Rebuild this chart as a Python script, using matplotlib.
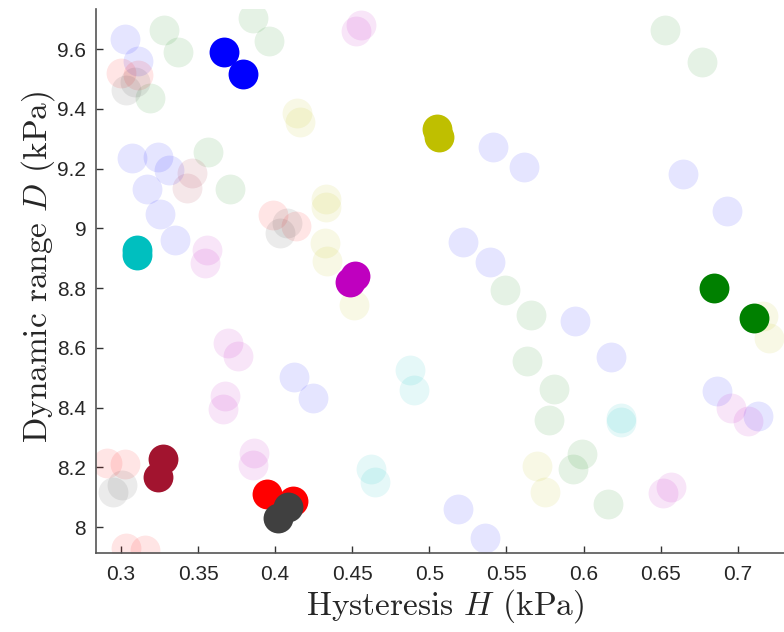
import matplotlib
matplotlib.use('Agg')
import matplotlib.pyplot as plt
from matplotlib import font_manager

# solid (current) points per series
solid_colors = ['#0000FF', '#BFBF00', '#00BFBF', '#BF00BF', '#008000', '#A2142F', '#FF0000', '#404040']
solid_H = [[0.3668, 0.3791], [0.5050, 0.5062], [0.3104, 0.3106], [0.4485, 0.4518],
           [0.6846, 0.7105], [0.3272, 0.3240], [0.3947, 0.4115], [0.4083, 0.4018]]
solid_D = [[9.590, 9.516], [9.331, 9.305], [8.927, 8.910], [8.820, 8.840],
           [8.800, 8.700], [8.228, 8.167], [8.110, 8.087], [8.067, 8.030]]

# faded (history) points per series
faded_colors = ['#0000FF', '#008000', '#FF0000', '#A2142F', '#404040', '#BFBF00', '#BF00BF', '#00BFBF']
faded_H = [
    [0.3026, 0.311, 0.307, 0.324, 0.331, 0.3169, 0.3253, 0.335, 0.5412, 0.5613, 0.5218, 0.5393,
     0.6645, 0.693, 0.4122, 0.4245, 0.5186, 0.536, 0.5944, 0.6178, 0.6865, 0.713],
    [0.3279, 0.337, 0.3856, 0.396, 0.319, 0.3564, 0.3707, 0.6528, 0.6768, 0.549, 0.5659, 0.5633,
     0.5808, 0.5776, 0.5990, 0.5931, 0.6158],
    [0.300, 0.311, 0.3986, 0.4135, 0.2909, 0.3026, 0.3032, 0.3156],
    [0.346, 0.3428],
    [0.3032, 0.309, 0.4031, 0.4077, 0.2948, 0.3006],
    [0.4141, 0.4161, 0.4329, 0.4329, 0.4323, 0.4336, 0.4511, 0.5698, 0.575, 0.7163, 0.7202],
    [0.4556, 0.4524, 0.3558, 0.3545, 0.3694, 0.3759, 0.3674, 0.3661, 0.3862, 0.3856,
     0.6956, 0.7066, 0.6567, 0.6515],
    [0.4874, 0.490, 0.4621, 0.4647, 0.6243, 0.6243],
]
faded_D = [
    [9.633, 9.560, 9.235, 9.239, 9.195, 9.131, 9.048, 8.961, 9.272, 9.205, 8.954, 8.887,
     9.182, 9.058, 8.502, 8.432, 8.060, 7.963, 8.689, 8.569, 8.455, 8.371],
    [9.664, 9.590, 9.704, 9.627, 9.435, 9.255, 9.131, 9.664, 9.557, 8.793, 8.710, 8.556,
     8.462, 8.358, 8.244, 8.194, 8.077],
    [9.520, 9.513, 9.044, 9.008, 8.214, 8.211, 7.930, 7.923],
    [9.185, 9.135],
    [9.463, 9.490, 8.984, 9.018, 8.117, 8.141],
    [9.386, 9.356, 9.098, 9.071, 8.951, 8.890, 8.743, 8.204, 8.117, 8.706, 8.633],
    [9.680, 9.660, 8.927, 8.884, 8.616, 8.572, 8.438, 8.395, 8.248, 8.207,
     8.398, 8.355, 8.134, 8.114],
    [8.526, 8.459, 8.194, 8.151, 8.365, 8.351],
]

x_ticks = [0.3, 0.35, 0.4, 0.45, 0.5, 0.55, 0.6, 0.65, 0.7]
x_tick_labels = ['0.3', '0.35', '0.4', '0.45', '0.5', '0.55', '0.6', '0.65', '0.7']
y_ticks = [8, 8.2, 8.4, 8.6, 8.8, 9, 9.2, 9.4, 9.6]
y_tick_labels = ['8', '8.2', '8.4', '8.6', '8.8', '9', '9.2', '9.4', '9.6']

installed = {f.name for f in font_manager.fontManager.ttflist}
tick_font = 'Liberation Sans Narrow' if 'Liberation Sans Narrow' in installed else 'Liberation Sans'

plt.rcParams['mathtext.fontset'] = 'cm'
plt.rcParams['axes.unicode_minus'] = False

fig = plt.figure(figsize=(7.84, 6.32), dpi=100)
ax = fig.add_axes([0.1224, 0.125, 0.8776, 0.8608])

ms = 21.5
for c, hs, ds in zip(faded_colors, faded_H, faded_D):
    ax.plot(hs, ds, 'o', color=c, alpha=0.1, markersize=ms, markeredgewidth=0)
for c, hs, ds in zip(solid_colors, solid_H, solid_D):
    ax.plot(hs, ds, 'o', color=c, markersize=ms, markeredgewidth=0)

ax.set_xlim(0.2838, 0.730)
ax.set_ylim(7.913, 9.734)

for side in ['top', 'right']:
    ax.spines[side].set_visible(False)
for side in ['left', 'bottom']:
    ax.spines[side].set_color('#555555')
    ax.spines[side].set_linewidth(1.2)

ax.set_xticks(x_ticks)
ax.set_xticklabels(x_tick_labels, fontfamily=tick_font, fontsize=15, color='#262626')
ax.set_yticks(y_ticks)
ax.set_yticklabels(y_tick_labels, fontfamily=tick_font, fontsize=15, color='#262626')
ax.tick_params(axis='both', direction='in', length=5, width=1, color='#333333')
ax.tick_params(axis='x', pad=9)
ax.tick_params(axis='y', pad=7)

ax.set_xlabel('Hysteresis $H$ (kPa)', fontfamily='cmr10', fontsize=24, color='#262626')
ax.set_ylabel('Dynamic range $D$ (kPa)', fontfamily='cmr10', fontsize=24, color='#262626')
ax.xaxis.set_label_coords(0.507, -0.062)
ax.yaxis.set_label_coords(-0.056, 0.526)

fig.savefig('out.png', dpi=100)
